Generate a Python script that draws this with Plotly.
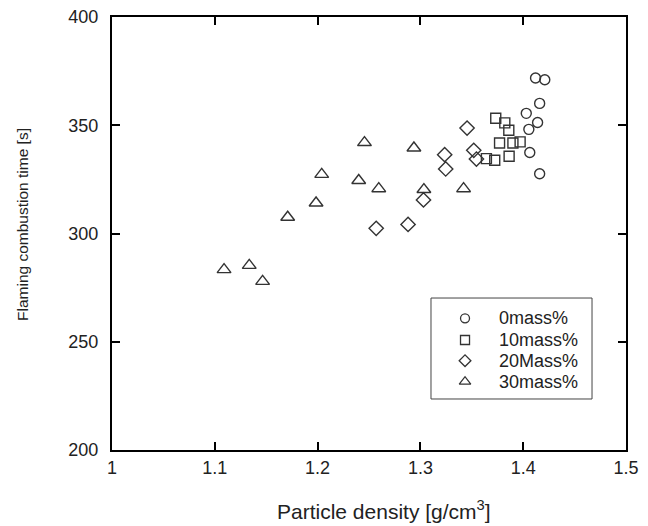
import plotly.graph_objects as go

# 0 mass%
x0 = [1.412, 1.421, 1.416, 1.403, 1.414, 1.4055, 1.4064, 1.416]
y0 = [371.8, 371.0, 360.1, 355.5, 351.3, 348.1, 337.4, 327.6]

# 10 mass%
x10 = [1.3733, 1.3821, 1.386, 1.377, 1.390, 1.397, 1.3863, 1.3642, 1.3723]
y10 = [353.2, 351.1, 347.7, 341.8, 341.8, 342.3, 335.7, 334.6, 333.8]

# 20 Mass%
x20 = [1.257, 1.288, 1.303, 1.3236, 1.3246, 1.3454, 1.3519, 1.3545]
y20 = [302.4, 304.2, 315.5, 336.4, 329.8, 348.7, 338.4, 334.4]

# 30 mass%
x30 = [1.109, 1.1335, 1.1465, 1.1709, 1.1985, 1.204, 1.240, 1.2456, 1.2595, 1.2937, 1.3034, 1.342]
y30 = [283.3, 285.3, 277.9, 307.5, 314.1, 327.3, 324.5, 342.0, 320.7, 339.5, 320.3, 320.7]

names = ["0mass%", "10mass%", "20Mass%", "30mass%"]
symbols = ["circle-open", "square-open", "diamond-open", "triangle-up-open"]
sizes = [10, 10, 11, 12]
legend_sizes = [9, 9, 9, 10]

x_ticks = [1, 1.1, 1.2, 1.3, 1.4, 1.5]
y_ticks = [200, 250, 300, 350, 400]

FONT = "Liberation Sans, Arial, sans-serif"
TCOL = "#222222"
MCOL = "#333333"

fig = go.Figure()
for xs, ys, nm, sym, sz in zip([x0, x10, x20, x30], [y0, y10, y20, y30], names, symbols, sizes):
    fig.add_trace(go.Scatter(
        x=xs, y=ys, mode="markers", name=nm, showlegend=False,
        marker=dict(symbol=sym, size=sz, color=MCOL, line=dict(width=1.4, color=MCOL)),
    ))

# --- legend box drawn manually (symbols on an overlay 0..1 axis) ---
leg_x0, leg_x1, leg_top, leg_bot = 0.6206, 0.9339, 0.351, 0.1178
leg_sym_x, leg_txt_x = 0.6868, 0.749
leg_rows = [0.3042, 0.254, 0.2062, 0.1577]

fig.add_shape(type="rect", xref="paper", yref="paper",
              x0=leg_x0, x1=leg_x1, y0=leg_bot, y1=leg_top,
              line=dict(color="#444", width=1), fillcolor="rgba(0,0,0,0)", layer="below")
for nm, sym, sz, ry in zip(names, symbols, legend_sizes, leg_rows):
    fig.add_trace(go.Scatter(
        x=[leg_sym_x], y=[ry], xaxis="x2", yaxis="y2", mode="markers",
        showlegend=False, hoverinfo="skip",
        marker=dict(symbol=sym, size=sz, color=MCOL, line=dict(width=1.3, color=MCOL)),
    ))
    fig.add_annotation(text=nm, xref="paper", yref="paper", x=leg_txt_x, y=ry,
                       xanchor="left", yanchor="middle", showarrow=False,
                       font=dict(family=FONT, size=18, color=TCOL))

axis_common = dict(
    showline=True, linecolor="black", linewidth=2, mirror="allticks",
    ticks="inside", ticklen=8, tickwidth=2, tickcolor="black",
    showgrid=False, zeroline=False, automargin=False,
    tickfont=dict(family=FONT, size=18, color=TCOL),
)

fig.update_xaxes(range=[1, 1.5], tickvals=x_ticks, ticktext=[str(v) for v in x_ticks],
                 ticklabelstandoff=0, **axis_common)
fig.update_yaxes(range=[200, 400], tickvals=y_ticks, ticklabelstandoff=8, **axis_common)

# axis titles
fig.add_annotation(text="Particle density [g/cm<sup>3</sup>]", xref="paper", yref="paper",
                   x=0.529, y=-0.138, xanchor="center", yanchor="middle", showarrow=False,
                   font=dict(family=FONT, size=21, color=TCOL))
fig.add_annotation(text="Flaming combustion time [s]", xref="paper", yref="paper",
                   x=-0.174, y=0.521, xanchor="center", yanchor="middle", showarrow=False,
                   textangle=-90, font=dict(family=FONT, size=15.5, color=TCOL))

fig.update_layout(
    width=648, height=526,
    margin=dict(l=112, r=22, t=17, b=76),
    paper_bgcolor="white", plot_bgcolor="white",
    showlegend=False,
    xaxis2=dict(range=[0, 1], overlaying="x", visible=False, fixedrange=True),
    yaxis2=dict(range=[0, 1], overlaying="y", visible=False, fixedrange=True),
)

fig.write_html("out.html")
